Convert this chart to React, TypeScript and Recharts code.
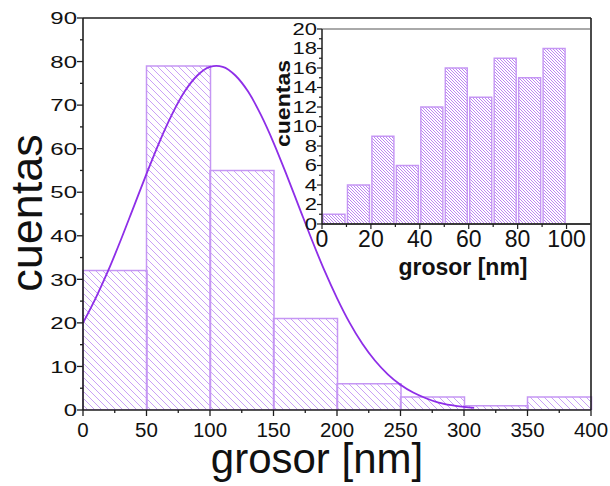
import React from 'react';
import { ComposedChart, Bar, Line, XAxis, YAxis, ReferenceLine } from 'recharts';

// ---- main histogram ----
const mainBins = ['0-50', '50-100', '100-150', '150-200', '200-250', '250-300', '300-350', '350-400'];
const mainCounts = [32, 79, 55, 21, 6, 3, 1, 3];
const mainXMajor = [0, 50, 100, 150, 200, 250, 300, 350, 400];
const mainXMinor = [25, 75, 125, 175, 225, 275, 325, 375];
const mainYMajor = [0, 10, 20, 30, 40, 50, 60, 70, 80, 90];
const mainYMinor = [5, 15, 25, 35, 45, 55, 65, 75, 85];

// ---- fitted curve ----
const fitX = [0, 10, 20, 30, 40, 50, 60, 70, 80, 90, 100, 105, 110, 120, 130, 140, 150, 160, 170, 180, 190, 200, 210, 220, 230, 240, 250, 260, 270, 280, 290, 300, 308];
const fitY = [20.0, 25.7, 32.1, 39.2, 46.7, 54.2, 61.4, 67.8, 73.1, 76.8, 78.8, 79.0, 78.8, 76.8, 73.1, 67.8, 61.4, 54.2, 46.7, 39.2, 32.1, 25.7, 20.0, 15.2, 11.3, 8.2, 5.8, 4.0, 2.7, 1.7, 1.1, 0.7, 0.5];

// ---- inset histogram ----
const insetBinStart = [0, 10, 20, 30, 40, 50, 60, 70, 80, 90];
const insetBinWidth = 10;
const insetCounts = [1, 4, 9, 6, 12, 16, 13, 17, 15, 18];
const insetXMajor = [0, 20, 40, 60, 80, 100];
const insetXMinor = [10, 30, 50, 70, 90];
const insetYMajor = [0, 2, 4, 6, 8, 10, 12, 14, 16, 18, 20];
const insetYMinor = [1, 3, 5, 7, 9, 11, 13, 15, 17, 19];

const mainTitleX = 'grosor [nm]';
const mainTitleY = 'cuentas';
const insetTitleX = 'grosor [nm]';
const insetTitleY = 'cuentas';

const mainData = mainBins.map((b, i) => ({ bin: b, count: mainCounts[i] }));
const fitData = fitX.map((x, i) => ({ x, y: fitY[i] }));
const insetData = insetBinStart.map((s, i) => ({ mid: s + insetBinWidth / 2, count: insetCounts[i] }));

const sortNum = (a: number[], b: number[]) => [...a, ...b].sort((p, q) => p - q);

const FONT = '"Liberation Sans", Arial, Helvetica, sans-serif';
const AXIS = '#1e1e1e';
const TXT = '#111';

const CURVE = '#8e2ee8';
const BAR_STROKE = '#c596f4';

// inset plot geometry (pixels)
const INSET_W = 340;
const INSET_H = 290;
const INSET_MARGIN = { top: 29, right: 19, bottom: 0, left: 0 };
const INSET_YAXIS_W = 52;
const INSET_DOMAIN: [number, number] = [0, 110];
const insetPlotW = INSET_W - INSET_MARGIN.right - INSET_MARGIN.left - INSET_YAXIS_W;
const insetBarSize = (insetPlotW * insetBinWidth) / (INSET_DOMAIN[1] - INSET_DOMAIN[0]);

const MainXTick = (p: any) => {
  const { x, y, payload } = p;
  const v = payload.value;
  const maj = mainXMajor.includes(v);
  return (
    <g>
      <line x1={x} x2={x} y1={y} y2={y + (maj ? 6 : 3)} stroke={AXIS} strokeWidth={1.3} />
      {maj && (
        <text x={x} y={y + 27} textAnchor="middle" fontSize={20.5} fill={TXT} fontFamily={FONT}>
          {v}
        </text>
      )}
    </g>
  );
};

const MainYTick = (p: any) => {
  const { x, y, payload } = p;
  const v = payload.value;
  const maj = mainYMajor.includes(v);
  return (
    <g>
      <line x1={x - (maj ? 6 : 3)} x2={x} y1={y} y2={y} stroke={AXIS} strokeWidth={1.3} />
      {maj && (
        <text
          transform={`translate(${x - 6},${y}) scale(1,0.72)`}
          textAnchor="end"
          dy="0.36em"
          fontSize={24}
          fill={TXT}
          fontFamily={FONT}
        >
          {v}
        </text>
      )}
    </g>
  );
};

const InsetXTick = (p: any) => {
  const { x, y, payload } = p;
  const v = payload.value;
  const maj = insetXMajor.includes(v);
  return (
    <g>
      <line x1={x} x2={x} y1={y} y2={y + (maj ? 5 : 3)} stroke={AXIS} strokeWidth={1.2} />
      {maj && (
        <text x={x} y={y + 23} textAnchor="middle" fontSize={23} fill={TXT} fontFamily={FONT}>
          {v}
        </text>
      )}
    </g>
  );
};

const InsetYTick = (p: any) => {
  const { x, y, payload } = p;
  const v = payload.value;
  const maj = insetYMajor.includes(v);
  return (
    <g>
      <line x1={x - (maj ? 5 : 3)} x2={x} y1={y} y2={y} stroke={AXIS} strokeWidth={1.2} />
      {maj && (
        <text
          transform={`translate(${x - 5},${y}) scale(1,0.75)`}
          textAnchor="end"
          dy="0.36em"
          fontSize={22}
          fill={TXT}
          fontFamily={FONT}
        >
          {v}
        </text>
      )}
    </g>
  );
};

export default function App() {
  return (
    <div
      style={{
        position: 'absolute',
        left: 0,
        top: 0,
        width: 610,
        height: 486,
        background: '#fff',
        fontFamily: FONT,
        overflow: 'hidden',
      }}
    >
      <svg width={0} height={0} style={{ position: 'absolute' }}>
        <defs>
          <pattern id="hatchMain" patternUnits="userSpaceOnUse" width={7} height={7}>
            <path d="M-1,-1 L8,8 M6,-1 L8,1 M-1,6 L1,8" stroke="#c9a1f6" strokeWidth={1} fill="none" />
          </pattern>
          <pattern id="hatchInset" patternUnits="userSpaceOnUse" width={3} height={3}>
            <path d="M-1,-1 L4,4 M2,-1 L4,1 M-1,2 L1,4" stroke="#bd86f2" strokeWidth={1} fill="none" />
          </pattern>
        </defs>
      </svg>

      {/* main chart */}
      <div style={{ position: 'absolute', left: 0, top: 0 }}>
        <ComposedChart
          width={610}
          height={486}
          data={mainData}
          margin={{ top: 18, right: 19, bottom: 0, left: 0 }}
          barCategoryGap={0}
          barGap={0}
        >
          <XAxis xAxisId="bins" dataKey="bin" type="category" hide height={0} />
          <XAxis
            xAxisId="num"
            dataKey="x"
            type="number"
            domain={[0, 400]}
            allowDataOverflow
            ticks={sortNum(mainXMajor, mainXMinor)}
            interval={0}
            tickSize={0}
            tickMargin={0}
            tickLine={false}
            height={76}
            axisLine={{ stroke: AXIS, strokeWidth: 1.6 }}
            tick={<MainXTick />}
          />
          <YAxis
            type="number"
            domain={[0, 90]}
            allowDataOverflow
            ticks={sortNum(mainYMajor, mainYMinor)}
            interval={0}
            tickSize={0}
            tickMargin={0}
            tickLine={false}
            width={83}
            axisLine={{ stroke: AXIS, strokeWidth: 1.6 }}
            tick={<MainYTick />}
          />
          <Bar
            xAxisId="bins"
            dataKey="count"
            fill="url(#hatchMain)"
            stroke={BAR_STROKE}
            strokeWidth={1.5}
            isAnimationActive={false}
          />
          <ReferenceLine xAxisId="num" y={90} stroke={AXIS} strokeWidth={1.6} />
          <ReferenceLine xAxisId="num" x={400} stroke={AXIS} strokeWidth={1.6} />
          <Line
            xAxisId="num"
            data={fitData}
            dataKey="y"
            type="monotone"
            stroke={CURVE}
            strokeWidth={1.8}
            dot={false}
            activeDot={false}
            isAnimationActive={false}
          />
        </ComposedChart>
      </div>

      {/* inset chart */}
      <div style={{ position: 'absolute', left: 270, top: 0 }}>
        <ComposedChart
          width={INSET_W}
          height={INSET_H}
          data={insetData}
          margin={INSET_MARGIN}
          barGap={0}
        >
          <XAxis
            dataKey="mid"
            type="number"
            domain={INSET_DOMAIN}
            allowDataOverflow
            ticks={sortNum(insetXMajor, insetXMinor)}
            interval={0}
            tickSize={0}
            tickMargin={0}
            tickLine={false}
            height={66}
            axisLine={{ stroke: '#3a3a3a', strokeWidth: 2 }}
            tick={<InsetXTick />}
          />
          <YAxis
            type="number"
            domain={[0, 20]}
            allowDataOverflow
            ticks={sortNum(insetYMajor, insetYMinor)}
            interval={0}
            tickSize={0}
            tickMargin={0}
            tickLine={false}
            width={INSET_YAXIS_W}
            axisLine={{ stroke: AXIS, strokeWidth: 1.5 }}
            tick={<InsetYTick />}
          />
          <Bar
            dataKey="count"
            barSize={insetBarSize}
            fill="url(#hatchInset)"
            stroke={BAR_STROKE}
            strokeWidth={1.4}
            isAnimationActive={false}
          />
          <ReferenceLine y={20} stroke="#555" strokeWidth={1} />
        </ComposedChart>
      </div>

      {/* axis titles */}
      <svg width={610} height={486} style={{ position: 'absolute', left: 0, top: 0, pointerEvents: 'none' }}>
        <text x={317} y={473} textAnchor="middle" fontSize={42} fill={TXT} fontFamily={FONT}>
          {mainTitleX}
        </text>
        <text
          transform="translate(42,213) rotate(-90)"
          textAnchor="middle"
          fontSize={45}
          fill={TXT}
          fontFamily={FONT}
        >
          {mainTitleY}
        </text>
        <text x={463} y={275} textAnchor="middle" fontSize={23} fontWeight="bold" fill={TXT} fontFamily={FONT}>
          {insetTitleX}
        </text>
        <text
          transform="translate(290,103.5) rotate(-90)"
          textAnchor="middle"
          fontSize={20}
          fontWeight="bold"
          fill={TXT}
          fontFamily={FONT}
          textLength={87}
          lengthAdjust="spacingAndGlyphs"
        >
          {insetTitleY}
        </text>
      </svg>
    </div>
  );
}
